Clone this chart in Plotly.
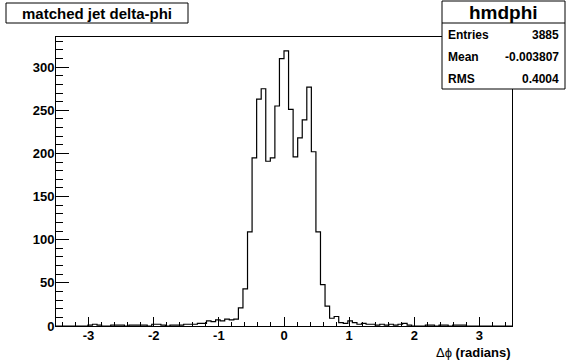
import plotly.graph_objects as go

# ---------------- data ----------------
hist_name = "hmdphi"
hist_title = "matched jet delta-phi"
x_min, x_max, n_bins = -3.5, 3.5, 100
counts = [
    0, 0, 0, 0, 0, 0, 0, 1, 2, 1,
    0, 0, 1, 1, 1, 0, 1, 1, 1, 1,
    0, 2, 2, 1, 0, 1, 1, 1, 2, 2,
    2, 3, 3, 6, 5, 7, 6, 8, 7, 8,
    21, 43, 109, 195, 263, 275, 191, 195, 255, 310,
    319, 251, 196, 218, 239, 277, 202, 109, 48, 23,
    9, 11, 4, 3, 6, 4, 2, 3, 2, 2,
    1, 2, 1, 2, 1, 2, 3, 1, 0, 0,
    0, 1, 1, 0, 1, 1, 0, 1, 1, 1,
    0, 0, 0, 0, 0, 0, 0, 0, 0, 0,
]
stats_labels = ["Entries", "Mean", "RMS"]
stats_values = ["3885", "-0.003807", "0.4004"]
x_tick_vals = [-3, -2, -1, 0, 1, 2, 3]
x_tick_text = ["-3", "-2", "-1", "0", "1", "2", "3"]
y_tick_vals = [0, 50, 100, 150, 200, 250, 300]
x_title = "Δϕ <b>(radians)</b>"

# ---------------- geometry ----------------
W, H = 568, 364
L, R, T, B = 56, 56, 37, 38
PW, PH = W - L - R, H - T - B
FONT = "Liberation Sans"

def px(xp):
    return (xp - L) / PW

def py(yp):
    return (H - B - yp) / PH

bw = (x_max - x_min) / n_bins
edges = [x_min + i * bw for i in range(n_bins + 1)]
xs = [edges[0]] + edges
ys = [0] + counts + [0]

fig = go.Figure()
fig.add_trace(go.Scatter(
    x=xs, y=ys, mode="lines", line=dict(shape="hv", color="black", width=1.2),
    hoverinfo="skip", showlegend=False,
))

shapes = []
annotations = []

# title box
shapes.append(dict(type="rect", xref="paper", yref="paper",
                   x0=px(6), x1=px(188), y0=py(23), y1=py(3),
                   line=dict(color="black", width=1), fillcolor="white", layer="above"))
annotations.append(dict(xref="paper", yref="paper", x=px(97), y=py(13.5),
                        text=f"<b>{hist_title}</b>", showarrow=False,
                        xanchor="center", yanchor="middle",
                        font=dict(family=FONT, size=15, color="black")))

# stats box
sx0, sx1, sy0, sy1 = 442, 565, 1, 89
shapes.append(dict(type="rect", xref="paper", yref="paper",
                   x0=px(sx0), x1=px(sx1), y0=py(sy1), y1=py(sy0),
                   line=dict(color="black", width=1), fillcolor="white", layer="above"))
shapes.append(dict(type="line", xref="paper", yref="paper",
                   x0=px(sx0), x1=px(sx1), y0=py(23), y1=py(23),
                   line=dict(color="black", width=1), layer="above"))
annotations.append(dict(xref="paper", yref="paper", x=px((sx0 + sx1) / 2), y=py(12),
                        text=f"<b>{hist_name}</b>", showarrow=False,
                        xanchor="center", yanchor="middle",
                        font=dict(family=FONT, size=19, color="black")))
row_y = [35, 57.5, 79]
for lab, val, ry in zip(stats_labels, stats_values, row_y):
    annotations.append(dict(xref="paper", yref="paper", x=px(446), y=py(ry),
                            text=f"<b>{lab}</b>", showarrow=False,
                            xanchor="left", yanchor="middle",
                            font=dict(family=FONT, size=12, color="black")))
    annotations.append(dict(xref="paper", yref="paper", x=px(561), y=py(ry),
                            text=f"<b>{val}</b>", showarrow=False,
                            xanchor="right", yanchor="middle",
                            font=dict(family=FONT, size=12, color="black")))

# x axis title
annotations.append(dict(xref="paper", yref="paper", x=px(512), y=py(352.5),
                        text=x_title, showarrow=False,
                        xanchor="right", yanchor="middle",
                        font=dict(family=FONT, size=13, color="black")))

fig.update_layout(
    width=W, height=H,
    margin=dict(l=L, r=R, t=T, b=B, pad=0),
    paper_bgcolor="white", plot_bgcolor="white",
    shapes=shapes, annotations=annotations,
    showlegend=False,
    xaxis=dict(range=[x_min, x_max], showgrid=False, zeroline=False,
               showline=True, linecolor="black", linewidth=1, mirror=True,
               ticks="inside", ticklen=9, tickcolor="black", tickwidth=1,
               tickvals=x_tick_vals, ticktext=x_tick_text,
               ticklabelstandoff=-3,
               tickfont=dict(family=FONT, size=13, color="black", weight="bold"),
               minor=dict(ticks="inside", ticklen=4.5, dtick=0.2, tick0=0,
                          tickcolor="black", tickwidth=1, showgrid=False)),
    yaxis=dict(range=[0, 335], showgrid=False, zeroline=False,
               showline=True, linecolor="black", linewidth=1, mirror=True,
               ticks="inside", ticklen=13, tickcolor="black", tickwidth=1,
               tickvals=y_tick_vals, ticklabelstandoff=-2,
               tickfont=dict(family=FONT, size=13, color="black", weight="bold"),
               minor=dict(ticks="inside", ticklen=7, dtick=10, tick0=0,
                          tickcolor="black", tickwidth=1, showgrid=False)),
)

fig.write_html("out.html", config={"displayModeBar": False},
               post_script="document.body.style.margin='0';document.body.style.overflow='hidden';")
